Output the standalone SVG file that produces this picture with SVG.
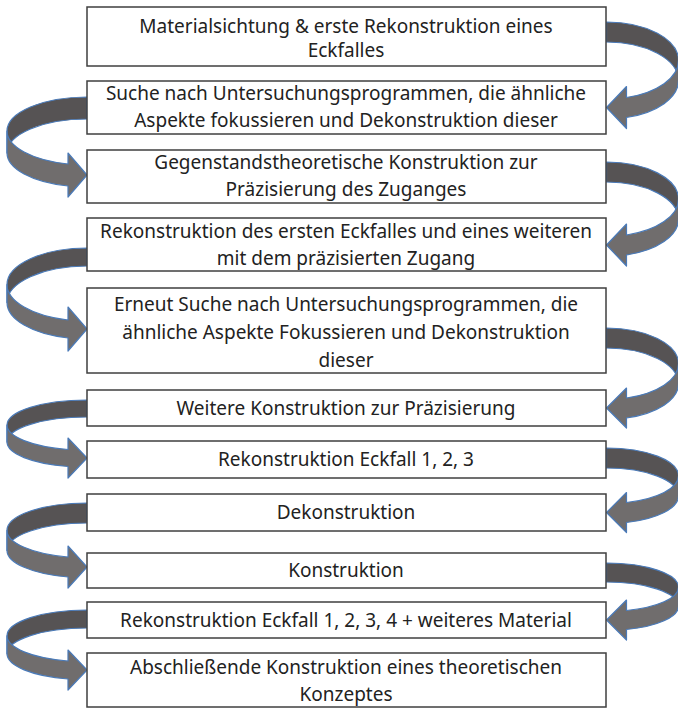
<svg xmlns="http://www.w3.org/2000/svg" width="678" height="708" viewBox="0 0 678 708">
  <style>
    .box { fill: #ffffff; stroke: #3f3f3f; stroke-width: 1.5; }
    .lbl { font-family: "Noto Sans", "Open Sans", sans-serif; font-size: 19px; fill: #222222; text-anchor: middle; }
    .back { fill: #565354; stroke: #4a7ab8; stroke-width: 1.2; stroke-linejoin: round; }
    .front { fill: #706d6d; stroke: #4a7ab8; stroke-width: 1.2; stroke-linejoin: round; }
  </style>

  <!-- curved arrows: dark back band, lighter front band with head -->
  <g id="connectors">
    <g id="r1">
      <path class="back" d="M606.5,22 A72,38.5 0 0 1 678.5,60.5 L678.5,80.5 A72,38.5 0 0 0 606.5,42 Z"/>
      <path class="front" d="M678.5,60.5 A72,38.5 0 0 1 626.5,97.5 L626.5,86.5 L606.5,107.5 L626.5,128.5 L626.5,117.5 A72,38.5 0 0 0 678.5,80.5 Z"/>
    </g>
    <g id="l1">
      <path class="back" d="M87,97 A80,34 0 0 0 7,131 L7,153 A80,34 0 0 1 87,119 Z"/>
      <path class="front" d="M7,131 A80,34 0 0 0 68,164 L68,153 L87,175 L68,197 L68,186 A80,34 0 0 1 7,153 Z"/>
    </g>
    <g id="r2">
      <path class="back" d="M606.5,162 A72,37.23 0 0 1 678.5,199.23 L678.5,219.23 A72,37.23 0 0 0 606.5,182 Z"/>
      <path class="front" d="M678.5,199.23 A72,37.23 0 0 1 626.5,235 L626.5,224 L606.5,245 L626.5,266 L626.5,255 A72,37.23 0 0 0 678.5,219.23 Z"/>
    </g>
    <g id="l2">
      <path class="back" d="M87,248 A80,36.52 0 0 0 7,284.52 L7,302.52 A80,36.52 0 0 1 87,266 Z"/>
      <path class="front" d="M7,284.52 A80,36.52 0 0 0 68,320 L68,307 L87,329 L68,351 L68,338 A80,36.52 0 0 1 7,302.52 Z"/>
    </g>
    <g id="r3">
      <path class="back" d="M606.5,328 A72,35.7 0 0 1 678.5,363.7 L678.5,383.7 A72,35.7 0 0 0 606.5,348 Z"/>
      <path class="front" d="M678.5,363.7 A72,35.7 0 0 1 626.5,398 L626.5,388 L606.5,408 L626.5,428 L626.5,418 A72,35.7 0 0 0 678.5,383.7 Z"/>
    </g>
    <g id="l3">
      <path class="back" d="M87,400 A80,25.11 0 0 0 7,425.11 L7,442.11 A80,25.11 0 0 1 87,417 Z"/>
      <path class="front" d="M7,425.11 A80,25.11 0 0 0 68,449.5 L68,438 L87,458 L68,478 L68,466.5 A80,25.11 0 0 1 7,442.11 Z"/>
    </g>
    <g id="r4">
      <path class="back" d="M606.5,448 A72,27.8 0 0 1 678.5,475.8 L678.5,495.8 A72,27.8 0 0 0 606.5,468 Z"/>
      <path class="front" d="M678.5,475.8 A72,27.8 0 0 1 626.5,502.5 L626.5,492.5 L606.5,512.5 L626.5,532.5 L626.5,522.5 A72,27.8 0 0 0 678.5,495.8 Z"/>
    </g>
    <g id="l4">
      <path class="back" d="M87,503 A80,27.39 0 0 0 7,530.39 L7,550.39 A80,27.39 0 0 1 87,523 Z"/>
      <path class="front" d="M7,530.39 A80,27.39 0 0 0 68,557 L68,546 L87,567 L68,588 L68,577 A80,27.39 0 0 1 7,550.39 Z"/>
    </g>
    <g id="r5">
      <path class="back" d="M606.5,563 A72,24.23 0 0 1 678.5,587.23 L678.5,606.23 A72,24.23 0 0 0 606.5,582 Z"/>
      <path class="front" d="M678.5,587.23 A72,24.23 0 0 1 626.5,610.5 L626.5,600 L606.5,620 L626.5,640 L626.5,629.5 A72,24.23 0 0 0 678.5,606.23 Z"/>
    </g>
    <g id="l5">
      <path class="back" d="M87,610 A80,25.87 0 0 0 7,635.87 L7,653.87 A80,25.87 0 0 1 87,628 Z"/>
      <path class="front" d="M7,635.87 A80,25.87 0 0 0 68,661 L68,650 L87,670 L68,690 L68,679 A80,25.87 0 0 1 7,653.87 Z"/>
    </g>
  </g>

  <g id="step1">
    <rect class="box" x="87" y="7" width="519" height="59"/>
    <text class="lbl" x="346" y="32.5">Materialsichtung &amp; erste Rekonstruktion eines</text>
    <text class="lbl" x="346" y="57">Eckfalles</text>
  </g>
  <g id="step2">
    <rect class="box" x="87" y="81" width="519" height="53"/>
    <text class="lbl" x="346" y="100">Suche nach Untersuchungsprogrammen, die ähnliche</text>
    <text class="lbl" x="346" y="127">Aspekte fokussieren und Dekonstruktion dieser</text>
  </g>
  <g id="step3">
    <rect class="box" x="87" y="150" width="519" height="53"/>
    <text class="lbl" x="346" y="169">Gegenstandstheoretische Konstruktion zur</text>
    <text class="lbl" x="346" y="196">Präzisierung des Zuganges</text>
  </g>
  <g id="step4">
    <rect class="box" x="87" y="218" width="519" height="53"/>
    <text class="lbl" x="346" y="238">Rekonstruktion des ersten Eckfalles und eines weiteren</text>
    <text class="lbl" x="346" y="265">mit dem präzisierten Zugang</text>
  </g>
  <g id="step5">
    <rect class="box" x="87" y="288" width="519" height="85"/>
    <text class="lbl" x="346" y="311">Erneut Suche nach Untersuchungsprogrammen, die</text>
    <text class="lbl" x="346" y="339">ähnliche Aspekte Fokussieren und Dekonstruktion</text>
    <text class="lbl" x="346" y="367">dieser</text>
  </g>
  <g id="step6">
    <rect class="box" x="87" y="390" width="519" height="36"/>
    <text class="lbl" x="346" y="414.5">Weitere Konstruktion zur Präzisierung</text>
  </g>
  <g id="step7">
    <rect class="box" x="87" y="441" width="519" height="37"/>
    <text class="lbl" x="346" y="466">Rekonstruktion Eckfall 1, 2, 3</text>
  </g>
  <g id="step8">
    <rect class="box" x="87" y="494" width="519" height="37"/>
    <text class="lbl" x="346" y="519">Dekonstruktion</text>
  </g>
  <g id="step9">
    <rect class="box" x="87" y="553" width="519" height="35"/>
    <text class="lbl" x="346" y="577">Konstruktion</text>
  </g>
  <g id="step10">
    <rect class="box" x="87" y="602" width="519" height="36"/>
    <text class="lbl" x="346" y="626.5">Rekonstruktion Eckfall 1, 2, 3, 4 + weiteres Material</text>
  </g>
  <g id="step11">
    <rect class="box" x="87" y="653" width="519" height="54"/>
    <text class="lbl" x="346" y="674">Abschließende Konstruktion eines theoretischen</text>
    <text class="lbl" x="346" y="701">Konzeptes</text>
  </g>
</svg>
